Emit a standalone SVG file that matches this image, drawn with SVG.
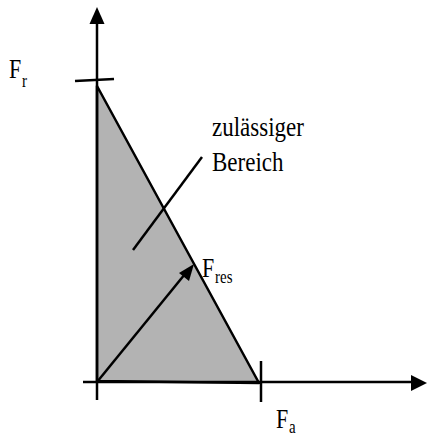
<svg xmlns="http://www.w3.org/2000/svg" width="427" height="442" viewBox="0 0 427 442">
<style>
.ln{stroke:#000;stroke-width:2.5;fill:none;stroke-linecap:butt}
</style>
<rect width="427" height="442" fill="#fff"/>
<g id="region">
<path d="M97,86 L97,381 L259,383 Z" fill="#b3b3b3" stroke="#000" stroke-width="2.5" stroke-linejoin="round"/>
</g>
<g id="connectors">
<line class="ln" x1="97" y1="400" x2="97" y2="22"/>
<polygon points="97,7 89.5,24 104.5,24" fill="#000"/>
<line class="ln" x1="83" y1="382" x2="413" y2="382"/>
<polygon points="427,383 411,375 411,391" fill="#000"/>
<line class="ln" x1="75" y1="81" x2="114" y2="79"/>
<line class="ln" x1="261" y1="361" x2="261" y2="402"/>
<line class="ln" x1="97" y1="382" x2="185" y2="274"/>
<polygon points="194,264 179,273 189,281" fill="#000"/>
<line class="ln" x1="133" y1="250" x2="202" y2="157"/>
</g>
<g id="labels" font-family="'Liberation Serif', 'Times New Roman', serif" fill="#000">
<text transform="translate(9,78) scale(1,1.2)" font-size="22">F</text>
<text transform="translate(22,87) scale(1,1.2)" font-size="15">r</text>
<text transform="translate(202,277) scale(1,1.2)" font-size="22">F</text>
<text transform="translate(215,283) scale(1,1.2)" font-size="15">res</text>
<text transform="translate(276,428) scale(1,1.2)" font-size="22">F</text>
<text transform="translate(289,433) scale(1,1.2)" font-size="15">a</text>
<text transform="translate(212,136) scale(1,1.2)" font-size="23">zulässiger</text>
<text transform="translate(212,171) scale(1,1.2)" font-size="23">Bereich</text>
</g>
</svg>
